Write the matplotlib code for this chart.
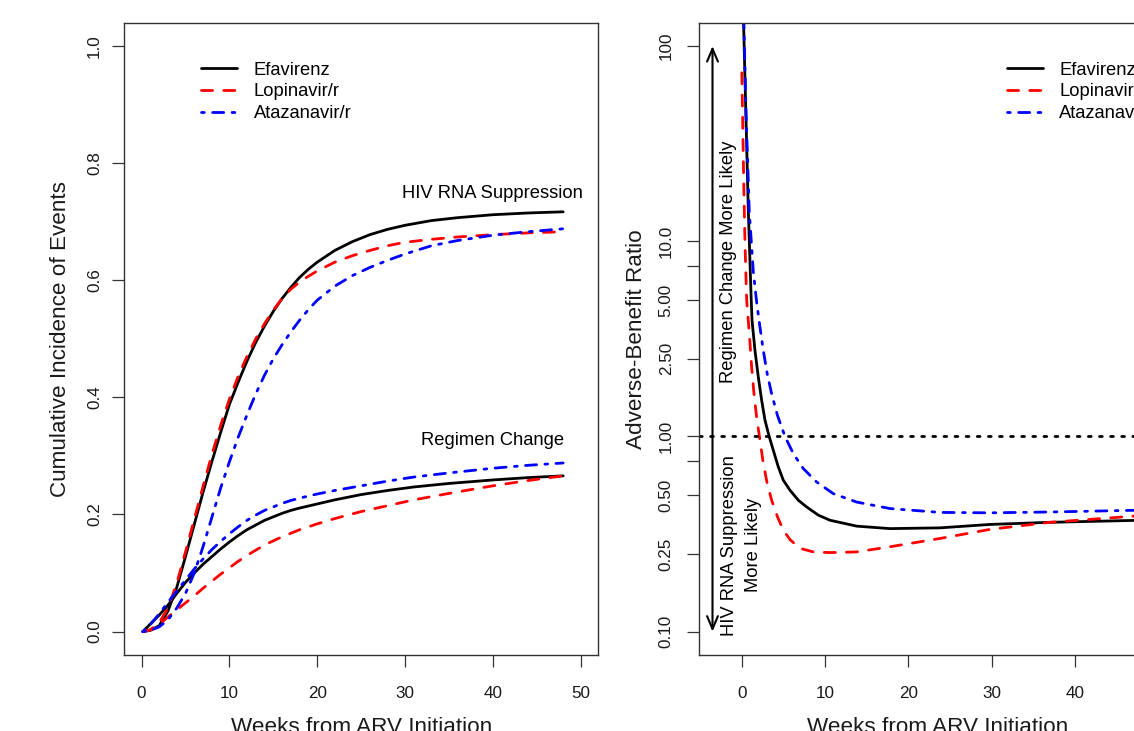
import matplotlib
matplotlib.use("Agg")
import matplotlib.pyplot as plt
from matplotlib.ticker import FixedLocator, NullLocator

plt.rcParams['font.family'] = ['Liberation Sans', 'DejaVu Sans']

# ---------------- data ----------------
regimens = ['Efavirenz', 'Lopinavir/r', 'Atazanavir/r']

# Cumulative incidence: HIV RNA suppression
wk_sup_efv = [0.15, 1, 2, 3, 4, 5, 6, 7, 8, 9, 10, 11, 12, 13, 14, 15, 16, 17, 18, 19, 20,
              22, 24, 26, 28, 30, 33, 36, 40, 44, 48]
sup_efv = [0, 0.002, 0.01, 0.035, 0.075, 0.128, 0.183, 0.238, 0.29, 0.34, 0.388, 0.426, 0.462,
           0.494, 0.522, 0.547, 0.569, 0.588, 0.605, 0.619, 0.631, 0.651, 0.666, 0.678, 0.687,
           0.694, 0.702, 0.707, 0.712, 0.715, 0.717]
wk_sup_lpv = [0.15, 1, 2, 3, 4, 5, 6, 7, 8, 9, 10, 11, 12, 13, 14, 15, 16, 17, 18, 19, 20,
              22, 24, 26, 28, 30, 33, 36, 40, 44, 48]
sup_lpv = [0, 0.003, 0.015, 0.04, 0.082, 0.136, 0.192, 0.248, 0.302, 0.352, 0.397, 0.436, 0.47,
           0.5, 0.526, 0.549, 0.569, 0.585, 0.597, 0.607, 0.616, 0.631, 0.642, 0.651, 0.659,
           0.665, 0.67, 0.674, 0.678, 0.681, 0.683]
wk_sup_atv = [0.15, 1, 2, 3, 4, 5, 6, 7, 8, 9, 10, 11, 12, 13, 14, 15, 16, 17, 18, 19, 20,
              22, 24, 26, 28, 30, 33, 36, 40, 44, 48]
sup_atv = [0, 0.002, 0.008, 0.02, 0.04, 0.065, 0.1, 0.145, 0.195, 0.245, 0.29, 0.332, 0.37,
           0.406, 0.438, 0.466, 0.49, 0.512, 0.532, 0.55, 0.566, 0.59, 0.608, 0.622, 0.634,
           0.645, 0.659, 0.668, 0.677, 0.683, 0.688]

# Cumulative incidence: regimen change
wk_chg_efv = [0.15, 1, 2, 3, 4, 5, 6, 7, 8, 9, 10, 11, 12, 13, 14, 15, 16, 17, 18, 20, 22,
              25, 28, 31, 35, 40, 44, 48]
chg_efv = [0, 0.013, 0.028, 0.045, 0.065, 0.084, 0.1, 0.115, 0.128, 0.141, 0.153, 0.164, 0.174,
           0.182, 0.19, 0.196, 0.202, 0.207, 0.211, 0.218, 0.225, 0.234, 0.241, 0.247, 0.253,
           0.259, 0.263, 0.266]
wk_chg_lpv = [0.15, 1, 2, 3, 4, 5, 6, 7, 8, 9, 10, 11, 12, 13, 14, 15, 16, 17, 18, 20, 22,
              25, 28, 31, 35, 40, 44, 48]
chg_lpv = [0, 0.003, 0.012, 0.025, 0.037, 0.049, 0.061, 0.074, 0.086, 0.098, 0.109, 0.12, 0.13,
           0.139, 0.148, 0.155, 0.162, 0.168, 0.174, 0.184, 0.193, 0.205, 0.215, 0.225, 0.236,
           0.249, 0.258, 0.266]
wk_chg_atv = [0.15, 1, 2, 3, 4, 5, 6, 7, 8, 9, 10, 11, 12, 13, 14, 15, 16, 17, 18, 20, 22,
              25, 28, 31, 35, 40, 44, 48]
chg_atv = [0, 0.012, 0.03, 0.05, 0.069, 0.088, 0.107, 0.124, 0.14, 0.154, 0.167, 0.179, 0.19,
           0.199, 0.207, 0.213, 0.219, 0.224, 0.228, 0.235, 0.241, 0.249, 0.257, 0.264, 0.271,
           0.279, 0.284, 0.288]

# Adverse-benefit ratio
wk_ratio_efv = [0.12, 0.5, 0.8, 1.15, 1.25, 1.6, 2.0, 2.4, 2.8, 3.3, 3.8, 4.4, 5.0, 5.8, 6.8,
                7.8, 9.2, 10.6, 13.8, 17.8, 23.8, 29.8, 37, 48]
ratio_efv = [200, 46, 14.3, 4.95, 3.9, 2.75, 2.01, 1.53, 1.21, 1.0, 0.848, 0.697, 0.596, 0.53,
             0.471, 0.435, 0.395, 0.372, 0.347, 0.337, 0.34, 0.354, 0.363, 0.372]
wk_ratio_lpv = [0.02, 0.24, 0.4, 0.6, 0.92, 1.2, 1.48, 1.8, 2.2, 2.6, 3.07, 3.6, 4.3, 5.0, 5.8,
                7.0, 8.6, 10.6, 13.8, 17.8, 23.8, 29.8, 37, 48]
ratio_lpv = [73, 21, 9.7, 5.0, 3.35, 2.26, 1.65, 1.25, 0.954, 0.725, 0.573, 0.471, 0.387, 0.331,
             0.296, 0.267, 0.256, 0.254, 0.256, 0.272, 0.30, 0.334, 0.363, 0.393]
wk_ratio_atv = [0.22, 0.28, 0.52, 0.91, 1.39, 1.8, 2.2, 2.6, 3.07, 3.6, 4.3, 5.2, 6.2, 7.4, 9.0,
                11.0, 13.8, 17.8, 23.8, 29.8, 37, 48]
ratio_atv = [160, 124, 46, 14.3, 7.05, 4.86, 3.62, 2.75, 2.09, 1.65, 1.28, 1.0, 0.816, 0.684,
             0.584, 0.509, 0.461, 0.427, 0.408, 0.406, 0.41, 0.419]

left_xticks = [0, 10, 20, 30, 40, 50]
left_yticks = [0.0, 0.2, 0.4, 0.6, 0.8, 1.0]
left_yticklabels = ['0.0', '0.2', '0.4', '0.6', '0.8', '1.0']
right_xticks = [0, 10, 20, 30, 40]
right_yticks = [0.10, 0.25, 0.50, 0.75, 1.00, 2.50, 5.00, 7.50, 10.0, 100]
right_yticklabels = ['0.10', '0.25', '0.50', '', '1.00', '2.50', '5.00', '', '10.0', '100']

# ---------------- styles ----------------
colors = ['black', 'red', 'blue']
styles = ['-', (0, (4, 4)), (0, (1, 3, 4, 3))]
LW = 2.0
TICK_FS = 12.3
TEXT_FS = 13.2
LAB_FS = 16.2
BOX_C = '#333333'

W, H = 1134, 731
fig = plt.figure(figsize=(W / 100, H / 100), dpi=100)

ax1 = fig.add_axes([124 / W, 1 - 655 / H, 474.3 / W, 632.3 / H])
ax2 = fig.add_axes([699 / W, 1 - 655 / H, 477 / W, 632.3 / H])

def style_axes(ax):
    for s in ax.spines.values():
        s.set_color(BOX_C)
        s.set_linewidth(1.0)
    ax.tick_params(axis='both', which='both', direction='out', length=8.6, width=0.9,
                   color=BOX_C, labelsize=TICK_FS, labelcolor='#1a1a1a')

# ---- left panel ----
sup = [(wk_sup_efv, sup_efv), (wk_sup_lpv, sup_lpv), (wk_sup_atv, sup_atv)]
chg = [(wk_chg_efv, chg_efv), (wk_chg_lpv, chg_lpv), (wk_chg_atv, chg_atv)]
for i in range(3):
    ax1.plot(sup[i][0], sup[i][1], color=colors[i], linestyle=styles[i], lw=LW,
             dash_capstyle='round', solid_capstyle='round', solid_joinstyle='round',
             label=regimens[i])
    ax1.plot(chg[i][0], chg[i][1], color=colors[i], linestyle=styles[i], lw=LW,
             dash_capstyle='round', solid_capstyle='round', solid_joinstyle='round')
ax1.set_xlim(-2, 52)
ax1.set_ylim(-0.04, 1.04)
ax1.xaxis.set_major_locator(FixedLocator(left_xticks))
ax1.yaxis.set_major_locator(FixedLocator(left_yticks))
ax1.set_yticklabels(left_yticklabels)
style_axes(ax1)
ax1.tick_params(axis='x', pad=13.5)
ax1.tick_params(axis='y', pad=12.6)
for lbl in ax1.get_yticklabels():
    lbl.set_rotation(90)
    lbl.set_ha('center')
    lbl.set_va('center')
ax1.text(40, 0.748, 'HIV RNA Suppression', ha='center', va='center', fontsize=TEXT_FS)
ax1.text(40, 0.327, 'Regimen Change', ha='center', va='center', fontsize=TEXT_FS)
ax1.legend(loc='upper left', bbox_to_anchor=(0.1623, 0.9386), frameon=False, borderpad=0,
           borderaxespad=0, fontsize=TEXT_FS, handlelength=1.96, handletextpad=0.91,
           labelspacing=0.26)

# ---- right panel ----
ratios = [(wk_ratio_efv, ratio_efv), (wk_ratio_lpv, ratio_lpv), (wk_ratio_atv, ratio_atv)]
for i in range(3):
    ax2.plot(ratios[i][0], ratios[i][1], color=colors[i], linestyle=styles[i], lw=LW,
             dash_capstyle='round', solid_capstyle='round', solid_joinstyle='round',
             label=regimens[i])
ax2.set_yscale('log')
ax2.set_xlim(-5.12, 52.12)
ax2.set_ylim(10 ** -1.12, 10 ** 2.12)
ax2.xaxis.set_major_locator(FixedLocator(right_xticks))
ax2.yaxis.set_major_locator(FixedLocator(right_yticks))
ax2.yaxis.set_minor_locator(NullLocator())
ax2.set_yticklabels(right_yticklabels)
style_axes(ax2)
ax2.tick_params(axis='x', pad=13.5)
ax2.tick_params(axis='y', pad=15.0)
for lbl in ax2.get_yticklabels():
    lbl.set_rotation(90)
    lbl.set_ha('center')
    lbl.set_va('center')
ax2.axhline(1.0, color='black', lw=LW, linestyle=(0, (1, 3)), dash_capstyle='round')
ax2.annotate('', xy=(-3.5, 100), xytext=(-3.5, 0.1),
             arrowprops=dict(arrowstyle='<->,head_length=0.4,head_width=0.17', lw=1.5,
                             color='black', mutation_scale=23, shrinkA=0, shrinkB=0))
ax2.text(-1.62, 7.84, 'Regimen Change More Likely', rotation=90, ha='center', va='center',
         fontsize=TEXT_FS)
ax2.text(-0.07, 0.277, 'HIV RNA Suppression\nMore Likely', rotation=90, ha='center',
         va='center', multialignment='center', linespacing=1.55, fontsize=TEXT_FS)
ax2.legend(loc='upper left', bbox_to_anchor=(0.645, 0.9386), frameon=False, borderpad=0,
           borderaxespad=0, fontsize=TEXT_FS, handlelength=1.96, handletextpad=0.91,
           labelspacing=0.26)

# ---- axis labels ----
fig.text(361.2 / W, 1 - 733 / H, 'Weeks from ARV Initiation', ha='center', va='baseline',
         fontsize=LAB_FS, color='#1a1a1a')
fig.text(937.6 / W, 1 - 733 / H, 'Weeks from ARV Initiation', ha='center', va='baseline',
         fontsize=LAB_FS, color='#1a1a1a')
fig.text(60.3 / W, 1 - 338.9 / H, 'Cumulative Incidence of Events', rotation=90, ha='center',
         va='center', fontsize=LAB_FS, color='#1a1a1a')
fig.text(636.2 / W, 1 - 338.9 / H, 'Adverse-Benefit Ratio', rotation=90, ha='center',
         va='center', fontsize=LAB_FS, color='#1a1a1a')

fig.savefig('out.png', dpi=100)
